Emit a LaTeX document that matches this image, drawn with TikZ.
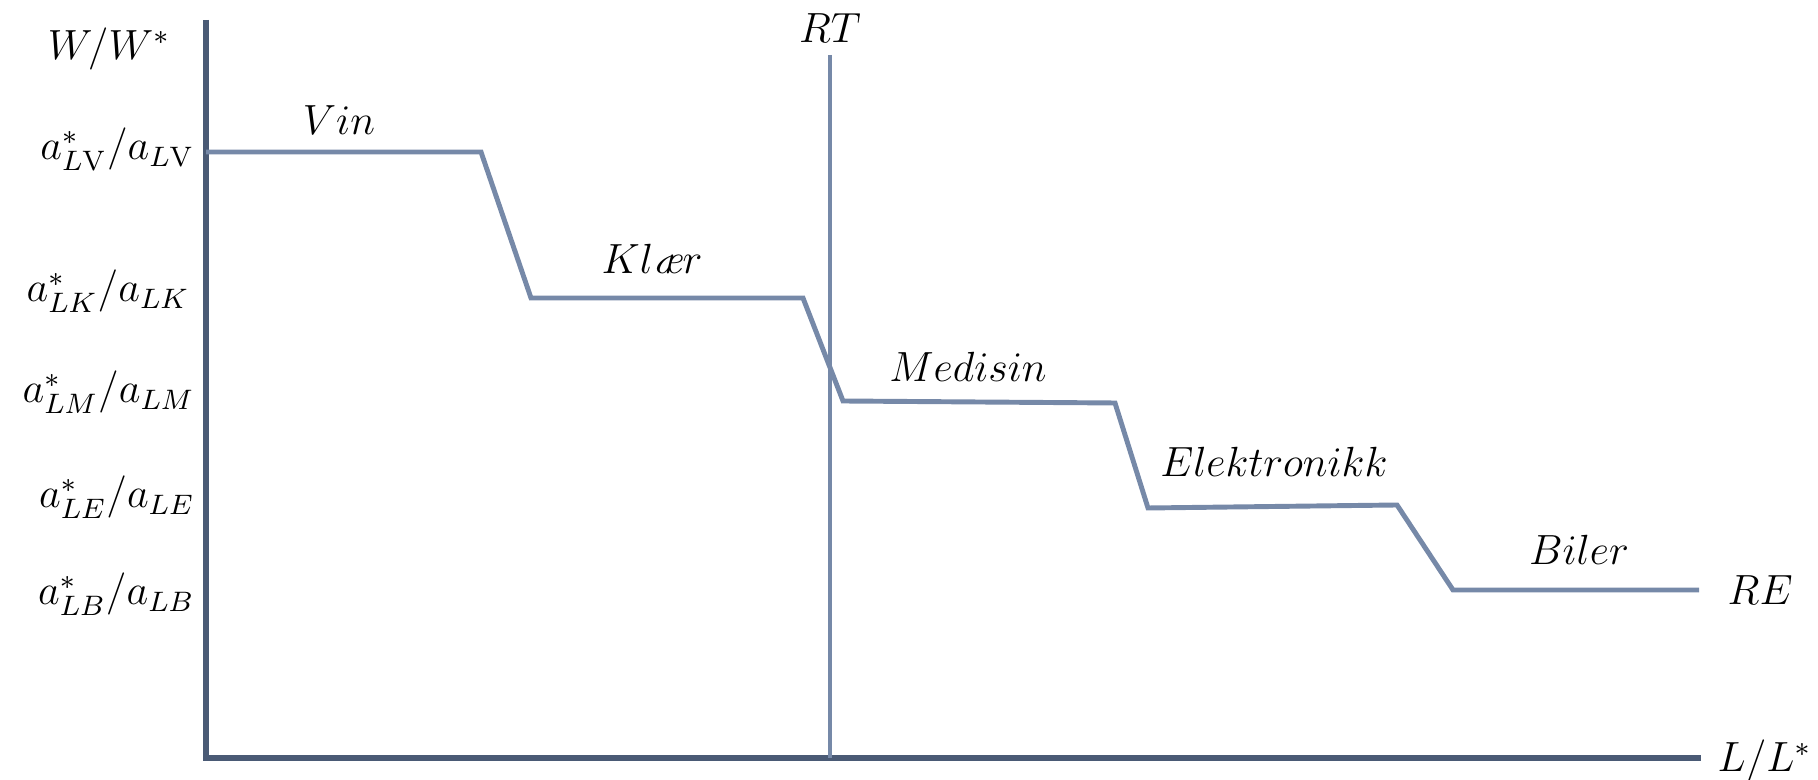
\documentclass[tikz,border=0pt]{standalone}
\usepackage{amsmath}
\usetikzlibrary{positioning}
\definecolor{axisslate}{RGB}{74,90,117}
\definecolor{curveblue}{RGB}{118,137,168}

\begin{document}
\begin{tikzpicture}[x=0.01cm,y=-0.01cm,
    axisline/.style={draw=axisslate,line width=1.7pt},
    supplyline/.style={draw=curveblue,line width=1.4pt,line join=miter},
    lbl/.style={font=\fontsize{12}{14}\selectfont,inner sep=0pt},
    ratio/.style={lbl,anchor=base east},
    good/.style={lbl,anchor=base}
]
    \useasboundingbox (0,0) rectangle (1818,780);
    % axes
    \coordinate (origin) at (206,758);
    \coordinate (ytop) at (206,20);
    \coordinate (xend) at (1701,758);
    \draw[axisline] (ytop) -- (origin) -- (xend);
    \node[lbl,anchor=base] (wratio) at (109,60) {$W/W^{*}$};
    \node[lbl,anchor=base east] (lratio) at (1812,772) {$L/L^{*}$};

    % corners of the RE schedule
    \coordinate (v0) at (206,152);
    \coordinate (v1) at (481,152);
    \coordinate (k0) at (531,298);
    \coordinate (k1) at (803,298);
    \coordinate (m0) at (843,401);
    \coordinate (m1) at (1115,403);
    \coordinate (e0) at (1148,508);
    \coordinate (e1) at (1397,505);
    \coordinate (b0) at (1453,590);
    \coordinate (b1) at (1699,590);
    \draw[supplyline] (v0) -- (v1) -- (k0) -- (k1) -- (m0) -- (m1) -- (e0) -- (e1) -- (b0) -- (b1);
    \node[lbl,anchor=base west] (re) at (1727,605) {$RE$};

    % RT line
    \coordinate (rttop) at (830,55);
    \coordinate (rtbot) at (830,758);
    \draw[supplyline] (rttop) -- (rtbot);
    \node[good] (rt) at (830,43) {$RT$};

    % relative productivities
    \node[ratio] (alv) at (195,160) {$a^{*}_{L\mathrm{V}}/a_{L\mathrm{V}}$};
    \node[ratio] (alk) at (190,302) {$a^{*}_{LK}/a_{LK}$};
    \node[ratio] (alm) at (195,403) {$a^{*}_{LM}/a_{LM}$};
    \node[ratio] (ale) at (195,508) {$a^{*}_{LE}/a_{LE}$};
    \node[ratio] (alb) at (195,605) {$a^{*}_{LB}/a_{LB}$};

    % goods
    \node[good] (vin) at (339,135) {$Vin$};
    \node[good] (klaer) at (652,274) {$Kl\text{\itshape æ}r$};
    \node[good] (medisin) at (968,382) {$Medisin$};
    \node[good] (elektronikk) at (1274,477) {$Elektronikk$};
    \node[good] (biler) at (1579,565) {$Biler$};
\end{tikzpicture}
\end{document}
